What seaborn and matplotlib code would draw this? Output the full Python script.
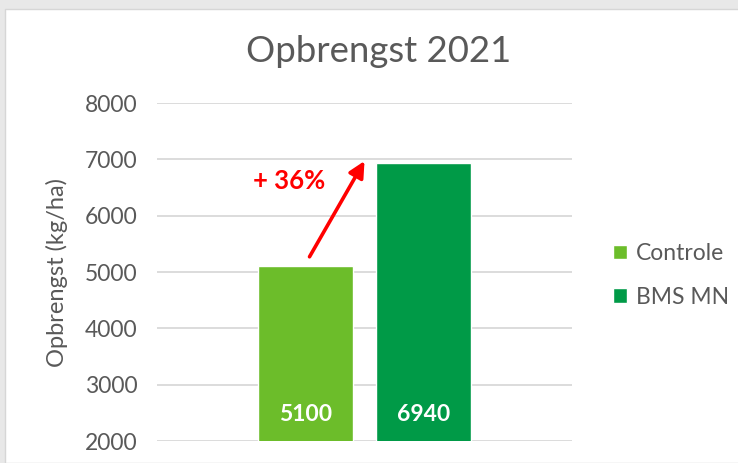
import matplotlib
matplotlib.use("Agg")
import matplotlib.pyplot as plt
import seaborn as sns
import pandas as pd
from matplotlib.patches import Rectangle

# data
groups = ["Controle", "BMS MN"]
yields = [5100, 6940]
increase_label = "+ 36%"
colors = ["#6cbd2a", "#009a47"]

df = pd.DataFrame({"x": ["2021"] * len(groups), "group": groups, "yield": yields})

sns.set_theme(style="white")
plt.rcParams["font.family"] = ["Lato", "DejaVu Sans"]
grey = "#595959"

fig = plt.figure(figsize=(7.38, 4.63), dpi=100)
fig.patch.set_facecolor("#e8e8e8")
# white chart panel, slightly inset like the screenshot
fig.patches.append(Rectangle((5 / 738, 0), 1, 1 - 9 / 463, transform=fig.transFigure,
                             facecolor="white", edgecolor="#d6d6d6", lw=1, zorder=-10))

ax = fig.add_axes([157 / 738, 1 - 441 / 463, 415 / 738, 338 / 463])
ax.set_facecolor("none")
sns.barplot(data=df, x="x", y="yield", hue="group", palette=colors, width=0.57, gap=0.2,
            saturation=1, ax=ax, legend=True, zorder=3)

ax.set_ylim(2000, 8000)
ax.set_yticks(range(2000, 8001, 1000))
ax.yaxis.grid(True, color="#d9d9d9", lw=1.3, zorder=0)
ax.set_axisbelow(True)
ax.set_xticks([])
ax.set_xlabel("")
ax.set_ylabel("Opbrengst (kg/ha)", fontsize=17, color=grey, labelpad=12)
ax.tick_params(axis="y", labelsize=16.5, labelcolor=grey, length=0, pad=14)
for s in ax.spines.values():
    s.set_visible(False)

bars = ax.patches[:len(groups)]
for bar, val in zip(bars, yields):
    ax.text(bar.get_x() + bar.get_width() / 2, 2470, str(val), ha="center", va="center",
            color="white", fontsize=16.5, fontweight="bold", zorder=5)

# arrow from control bar to treatment bar level
b0, b1 = bars
x0 = b0.get_x() + b0.get_width() / 2 + 0.01
x1 = (b0.get_x() + b1.get_x() + b1.get_width()) / 2
ax.annotate("", xy=(x1, yields[1] + 30), xytext=(x0, yields[0] + 170),
            arrowprops=dict(arrowstyle="-|>,head_length=0.8,head_width=0.4", color="#ff0000",
                            lw=2.6, shrinkA=0, shrinkB=0), zorder=6)
ax.text(b0.get_x() + b0.get_width() / 2 - 0.04, 6610, increase_label, ha="center", va="center",
        color="#ff0000", fontsize=18.5, fontweight="bold", zorder=6)

fig.text(379 / 738, 1 - 52 / 463, "Opbrengst 2021", ha="center", va="center", fontsize=26.3, color=grey)

handles, labels = ax.get_legend_handles_labels()
ax.legend(handles, labels, loc="center left", bbox_to_anchor=(1.05, 0.49), frameon=False,
          fontsize=16.5, labelcolor=grey, handlelength=0.6, handleheight=0.6, handletextpad=0.4,
          labelspacing=1.0)

fig.savefig("out.png", dpi=100, facecolor=fig.get_facecolor())
